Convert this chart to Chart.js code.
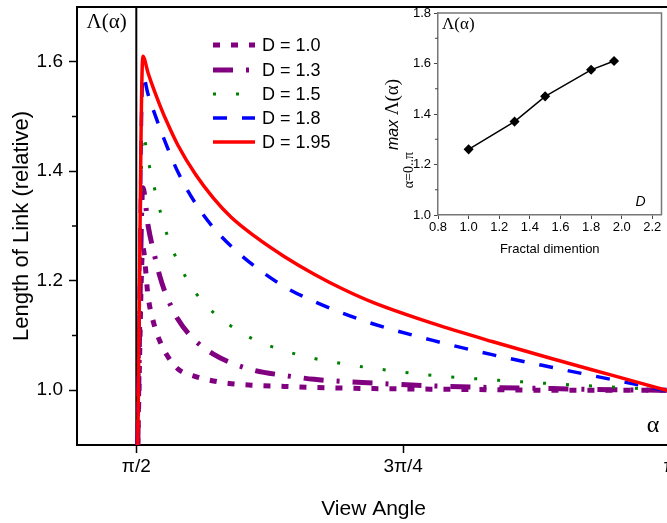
<!DOCTYPE html>
<html>
<head>
<meta charset="utf-8">
<script src="https://cdn.jsdelivr.net/npm/chart.js@4.4.1/dist/chart.umd.min.js"></script>
<style>
  html, body { margin: 0; padding: 0; background: #fff; width: 667px; height: 523px; overflow: hidden; }
  #main { position: absolute; left: 0; top: 0; width: 690px; height: 523px; }
  #inset { position: absolute; left: 370px; top: 0; width: 297px; height: 270px; }
</style>
</head>
<body>
<div id="main"><canvas id="mainChart"></canvas></div>
<div id="inset"><canvas id="insetChart"></canvas></div>
<script>
// View angle in degrees (pi/2 = 90, 3pi/4 = 135, pi = 180)
const angleDeg = [90.25, 91.1, 92, 93, 94, 95, 97, 100, 103, 106, 110, 115, 120, 125, 130, 140, 150, 160, 170, 180];

// Relative link length for each fractal dimension D
const lengthD100 = [0.9, 1.26, 1.17, 1.12, 1.089, 1.067, 1.039, 1.025, 1.017, 1.012, 1.009, 1.007, 1.005, 1.004, 1.003, 1.002, 1.001, 1.0, 1.0, 1.0];
const lengthD130 = [0.9, 1.37, 1.30, 1.25, 1.207, 1.175, 1.130, 1.090, 1.066, 1.05, 1.036, 1.027, 1.02, 1.016, 1.013, 1.008, 1.005, 1.003, 1.001, 1.0];
const lengthD150 = [0.9, 1.47, 1.42, 1.372, 1.328, 1.29, 1.235, 1.178, 1.142, 1.117, 1.092, 1.072, 1.058, 1.048, 1.04, 1.027, 1.019, 1.012, 1.006, 1.0];
const lengthD180 = [0.9, 1.575, 1.540, 1.508, 1.478, 1.450, 1.399, 1.341, 1.297, 1.263, 1.226, 1.189, 1.162, 1.140, 1.121, 1.091, 1.065, 1.042, 1.020, 0.998];
const lengthD195 = [0.9, 1.61, 1.579, 1.548, 1.520, 1.494, 1.448, 1.394, 1.351, 1.316, 1.281, 1.244, 1.212, 1.184, 1.160, 1.122, 1.089, 1.058, 1.028, 0.998];

const seriesLabels = ['D = 1.0', 'D = 1.3', 'D = 1.5', 'D = 1.8', 'D = 1.95'];

// Angle axis ticks
const tickAngles = [90, 135, 180];
const tickLabels = ['\u03C0/2', '3\u03C0/4', '\u03C0'];
const lengthTicks = [1.0, 1.2, 1.4, 1.6];
const lengthMinorTicks = [1.1, 1.3, 1.5];

// Inset: maximum of Λ(α) over α = 0..π versus fractal dimension
const fractalDim = [1.0, 1.3, 1.5, 1.8, 1.95];
const maxLength = [1.26, 1.37, 1.47, 1.575, 1.61];
const insetDimTicks = [0.8, 1.0, 1.2, 1.4, 1.6, 1.8, 2.0, 2.2];
const insetLengthTicks = [1.0, 1.2, 1.4, 1.6, 1.8];
const insetMinorTicks = [1.1, 1.3, 1.5, 1.7];

const SANS = "'Liberation Sans', Arial, Helvetica, sans-serif";
const SERIF = "'Liberation Serif', 'Times New Roman', serif";
Chart.defaults.font.family = SANS;
Chart.defaults.color = '#000';

const toPoints = vals => angleDeg.map((a, i) => ({ x: a, y: vals[i] }));

const seriesStyles = [
  { color: '#800080', width: 5,   dash: [7, 11],          order: 4 },
  { color: '#800080', width: 5,   dash: [20, 13, 3, 13],  order: 3 },
  { color: '#008000', width: 3,   dash: [3, 20],          order: 2 },
  { color: '#0000FF', width: 3.5, dash: [14, 15],         order: 1 },
  { color: '#FF0000', width: 3.5, dash: [],               order: 0 }
];
const seriesValues = [lengthD100, lengthD130, lengthD150, lengthD180, lengthD195];

const mainDecor = {
  id: 'mainDecor',
  beforeDatasetsDraw(chart) {
    const { ctx, chartArea: a, scales: { x, y } } = chart;
    ctx.save();
    ctx.strokeStyle = '#000';
    ctx.lineWidth = 2;
    const px = x.getPixelForValue(tickAngles[0]);
    ctx.beginPath(); ctx.moveTo(px, a.top); ctx.lineTo(px, a.bottom); ctx.stroke();
    ctx.beginPath(); ctx.moveTo(a.left - 1, a.top); ctx.lineTo(a.right, a.top); ctx.stroke();
    ctx.lineWidth = 1.5;
    lengthMinorTicks.forEach(v => {
      const py = y.getPixelForValue(v);
      ctx.beginPath(); ctx.moveTo(a.left - 5, py); ctx.lineTo(a.left, py); ctx.stroke();
    });
    ctx.fillStyle = '#000';
    ctx.textAlign = 'center';
    ctx.textBaseline = 'middle';
    ctx.font = '21px ' + SERIF;
    ctx.fillText('\u039B(\u03B1)', (a.left + px) / 2, a.top + 15);
    ctx.font = '24px ' + SERIF;
    ctx.fillText('\u03B1', a.right - 17, a.bottom - 19);
    ctx.restore();
  },
  afterDatasetsDraw(chart) {
    const { ctx } = chart;
    const rowY = [45, 70, 94, 118, 142];
    ctx.save();
    chart.data.datasets.forEach((ds, i) => {
      ctx.strokeStyle = ds.borderColor;
      ctx.lineWidth = ds.borderWidth;
      ctx.setLineDash(ds.borderDash || []);
      ctx.beginPath(); ctx.moveTo(213, rowY[i]); ctx.lineTo(255, rowY[i]); ctx.stroke();
      ctx.setLineDash([]);
      ctx.fillStyle = '#000';
      ctx.font = '18px ' + SANS;
      ctx.textAlign = 'left';
      ctx.textBaseline = 'middle';
      ctx.fillText(seriesLabels[i], 262, rowY[i] + 1);
    });
    ctx.restore();
  }
};

new Chart(document.getElementById('mainChart'), {
  type: 'line',
  data: {
    datasets: seriesValues.map((vals, i) => ({
      label: seriesLabels[i],
      data: toPoints(vals),
      borderColor: seriesStyles[i].color,
      borderWidth: seriesStyles[i].width,
      borderDash: seriesStyles[i].dash,
      order: seriesStyles[i].order,
      pointRadius: 0,
      fill: false,
      cubicInterpolationMode: 'monotone'
    }))
  },
  options: {
    responsive: true,
    maintainAspectRatio: false,
    animation: false,
    events: [],
    layout: { padding: { top: 7, right: 20, left: 0, bottom: 0 } },
    plugins: { legend: { display: false }, tooltip: { enabled: false } },
    scales: {
      x: {
        type: 'linear', min: 80, max: 180,
        afterBuildTicks: s => { s.ticks = tickAngles.map(v => ({ value: v })); },
        afterFit: s => { s.height = 78; s.paddingLeft = 0; s.paddingRight = 0; },
        ticks: {
          callback: v => { const i = tickAngles.indexOf(v); return i >= 0 ? tickLabels[i] : ''; },
          font: { size: 19 }, color: '#000', padding: 2, maxRotation: 0, autoSkip: false
        },
        grid: { drawOnChartArea: false, tickLength: 8, tickColor: '#000', tickWidth: 1.5 },
        border: { color: '#000', width: 2 },
        title: { display: true, text: 'View Angle', font: { size: 21 }, color: '#000', padding: { top: 0, bottom: 1 } }
      },
      y: {
        min: 0.9, max: 1.7,
        afterBuildTicks: s => { s.ticks = lengthTicks.map(v => ({ value: v })); },
        afterFit: s => { s.width = 77; s.paddingTop = 0; s.paddingBottom = 0; },
        ticks: { callback: v => v.toFixed(1), font: { size: 19 }, color: '#000', padding: 6 },
        grid: { drawOnChartArea: false, tickLength: 8, tickColor: '#000', tickWidth: 1.5 },
        border: { color: '#000', width: 2 },
        title: { display: true, text: 'Length of Link (relative)', font: { size: 22 }, color: '#000', padding: { top: 9, bottom: 0 } }
      }
    }
  },
  plugins: [mainDecor]
});

const insetDecor = {
  id: 'insetDecor',
  afterDraw(chart) {
    const { ctx, chartArea: a, scales: { y } } = chart;
    ctx.save();
    ctx.strokeStyle = '#777';
    ctx.lineWidth = 1.5;
    ctx.beginPath();
    ctx.moveTo(a.left, a.top); ctx.lineTo(a.right, a.top); ctx.lineTo(a.right, a.bottom);
    ctx.stroke();
    ctx.strokeStyle = '#444';
    ctx.lineWidth = 1;
    insetMinorTicks.forEach(v => {
      const py = y.getPixelForValue(v);
      ctx.beginPath(); ctx.moveTo(a.left - 3, py); ctx.lineTo(a.left, py); ctx.stroke();
    });
    ctx.fillStyle = '#000';
    ctx.textBaseline = 'middle';
    ctx.textAlign = 'left';
    ctx.font = '17px ' + SERIF;
    ctx.fillText('\u039B(\u03B1)', a.left + 4, a.top + 12);
    ctx.font = 'italic 14px ' + SANS;
    ctx.textAlign = 'right';
    ctx.fillText('D', a.right - 16, a.bottom - 13);

    // rotated axis caption: max Λ(α) with the α = 0..π range underneath
    ctx.translate(28, 150);
    ctx.rotate(-Math.PI / 2);
    ctx.textAlign = 'left';
    ctx.textBaseline = 'alphabetic';
    ctx.font = 'italic 16px ' + SANS;
    ctx.fillText('max ', 0, 0);
    const w = ctx.measureText('max ').width;
    ctx.font = '19px ' + SERIF;
    ctx.fillText('\u039B(\u03B1)', w, 0);
    ctx.font = '14px ' + SERIF;
    ctx.textAlign = 'right';
    ctx.fillText('\u03B1=0..\u03C0', -2, 15);
    ctx.restore();
  }
};

new Chart(document.getElementById('insetChart'), {
  type: 'line',
  data: {
    datasets: [{
      data: fractalDim.map((d, i) => ({ x: d, y: maxLength[i] })),
      borderColor: '#000', borderWidth: 1.5,
      pointStyle: 'rectRot', pointRadius: 4,
      pointBackgroundColor: '#000', pointBorderColor: '#000',
      tension: 0, fill: false
    }]
  },
  options: {
    responsive: true,
    maintainAspectRatio: false,
    animation: false,
    events: [],
    layout: { padding: { top: 13, right: 2, left: 0, bottom: 0 } },
    plugins: { legend: { display: false }, tooltip: { enabled: false } },
    scales: {
      x: {
        type: 'linear', min: 0.8, max: 2.26,
        afterBuildTicks: s => { s.ticks = insetDimTicks.map(v => ({ value: v })); },
        afterFit: s => { s.height = 55; s.paddingLeft = 0; s.paddingRight = 0; },
        ticks: { callback: v => v.toFixed(1), font: { size: 13 }, color: '#000', padding: 1, maxRotation: 0, autoSkip: false },
        grid: { drawOnChartArea: false, tickLength: 4, tickColor: '#444' },
        border: { color: '#777', width: 1.5 },
        title: { display: true, text: 'Fractal dimention', font: { size: 13 }, color: '#000', padding: { top: 0, bottom: 13 } }
      },
      y: {
        min: 1.0, max: 1.8,
        afterBuildTicks: s => { s.ticks = insetLengthTicks.map(v => ({ value: v })); },
        afterFit: s => { s.width = 68; s.paddingTop = 0; s.paddingBottom = 0; },
        ticks: { callback: v => v.toFixed(1), font: { size: 13 }, color: '#000', padding: 3 },
        grid: { drawOnChartArea: false, tickLength: 4, tickColor: '#444' },
        border: { color: '#777', width: 1.5 }
      }
    }
  },
  plugins: [insetDecor]
});
</script>
</body>
</html>
